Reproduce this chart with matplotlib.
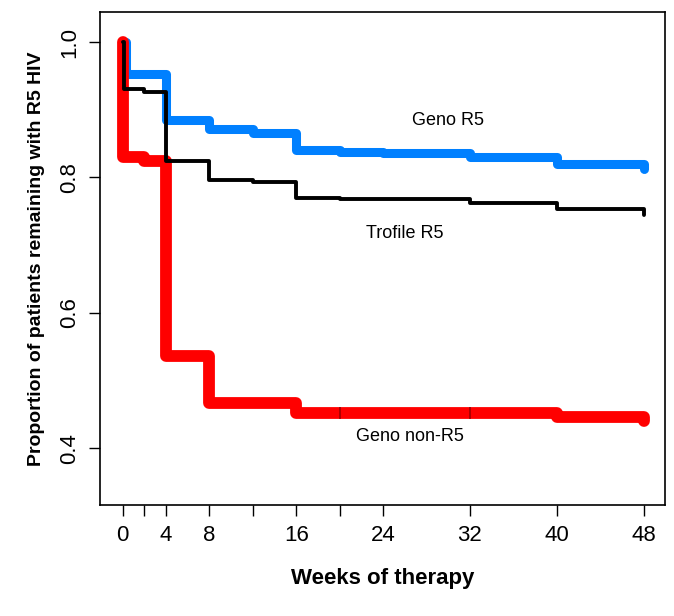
import matplotlib.pyplot as plt

plt.rcParams["font.family"] = ["Liberation Sans", "DejaVu Sans"]

# step times (weeks) and survival proportions
geno_r5_t = [0, 0.3, 4, 8, 12, 16, 20, 24, 32, 40, 48]
geno_r5_p = [1.0, 0.953, 0.885, 0.872, 0.866, 0.840, 0.838, 0.836, 0.830, 0.820, 0.813]
trofile_t = [0, 0.15, 2, 4, 8, 12, 16, 20, 32, 40, 48]
trofile_p = [1.0, 0.930, 0.927, 0.825, 0.797, 0.794, 0.770, 0.768, 0.762, 0.753, 0.745]
nonr5_t = [0, 0.05, 2, 4, 8, 16, 40, 48]
nonr5_p = [1.0, 0.830, 0.825, 0.537, 0.467, 0.452, 0.446, 0.440]
censor_t = [20, 32]

xticks = [0, 2, 4, 8, 12, 16, 20, 24, 32, 40, 48]
xlabels = ["0", "", "4", "8", "", "16", "", "24", "32", "40", "48"]
yticks = [0.4, 0.6, 0.8, 1.0]

fig = plt.figure(figsize=(6.74, 6.16), dpi=100)
ax = fig.add_axes([0.148, 0.18, 0.839, 0.80])

ax.step(geno_r5_t, geno_r5_p, where="post", color="#0080ff", lw=6.5,
        solid_capstyle="round", solid_joinstyle="round")
ax.step(nonr5_t, nonr5_p, where="post", color="#ff0000", lw=8.5,
        solid_capstyle="round", solid_joinstyle="round")
ax.step(trofile_t, trofile_p, where="post", color="black", lw=2.8,
        solid_capstyle="round")
ax.plot(censor_t, [0.452, 0.452], ls="none", marker="|", ms=9,
        mew=1.2, color="#a00000")

ax.text(30, 0.877, "Geno R5", fontsize=13, ha="center")
ax.text(26, 0.71, "Trofile R5", fontsize=13, ha="center")
ax.text(26.5, 0.41, "Geno non-R5", fontsize=13, ha="center")

ax.set_xlim(-2.1, 50)
ax.set_ylim(0.316, 1.044)
ax.set_xticks(xticks)
ax.set_xticklabels(xlabels, fontsize=16)
ax.set_yticks(yticks)
ax.set_yticklabels(["0.4", "0.6", "0.8", "1.0"], fontsize=16, rotation=90,
                   va="center")
ax.tick_params(length=8, width=1, pad=6)
for s in ax.spines.values():
    s.set_linewidth(1.2)

ax.set_xlabel("Weeks of therapy", fontsize=16, fontweight="bold", labelpad=16)
ax.set_ylabel("Proportion of patients remaining with R5 HIV", fontsize=14,
              fontweight="bold", labelpad=10)

fig.savefig("out.png", dpi=100)
